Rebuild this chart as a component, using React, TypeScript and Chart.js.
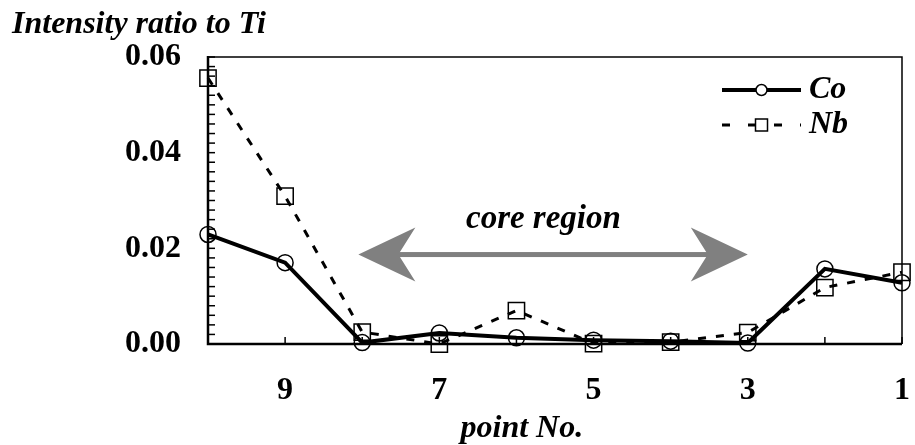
import React, { useEffect, useRef } from 'react';
import { Chart, registerables } from 'chart.js';

Chart.register(...registerables);

// ---- data ----
const points = [10, 9, 8, 7, 6, 5, 4, 3, 2, 1];
const coValues = [0.0229, 0.0170, 0.0003, 0.0023, 0.0013, 0.0008, 0.0006, 0.0002, 0.0157, 0.0128];
const nbValues = [0.0556, 0.0309, 0.0025, 0.0000, 0.0070, 0.0001, 0.0004, 0.0024, 0.0118, 0.0150];
const xTickLabels = [9, 7, 5, 3, 1];
const yTickValues = [0, 0.02, 0.04, 0.06];
const seriesNames = ['Co', 'Nb'];
const yTitle = 'Intensity ratio to Ti';
const xTitle = 'point No.';
const annotationText = 'core region';

// annotation anchors (data coordinates)
const arrowFromX = 8.05;
const arrowToX = 3.0;
const arrowY = 0.0187;
const annotationX = 5.65;
const annotationY = 0.0243;
const xTitleAtValue = 5.93;

const FONT = '"Liberation Serif", "Times New Roman", serif';

const decorPlugin = {
  id: 'decor',
  afterDraw(chart: any) {
    const ctx = chart.ctx;
    const { left, right, top, bottom } = chart.chartArea;
    const xs = chart.scales.x;
    const ys = chart.scales.y;
    ctx.save();
    ctx.strokeStyle = '#000';
    ctx.lineCap = 'butt';

    // frame
    ctx.lineWidth = 1.5;
    ctx.beginPath();
    ctx.moveTo(left, top);
    ctx.lineTo(right, top);
    ctx.lineTo(right, bottom);
    ctx.stroke();
    ctx.lineWidth = 2.5;
    ctx.beginPath();
    ctx.moveTo(left, top - 1);
    ctx.lineTo(left, bottom);
    ctx.lineTo(right, bottom);
    ctx.stroke();

    // inside ticks
    ctx.lineWidth = 1.5;
    for (let i = 0; i <= 30; i++) {
      const py = ys.getPixelForValue(i * 0.002);
      ctx.beginPath();
      ctx.moveTo(left, py);
      ctx.lineTo(left + 7, py);
      ctx.stroke();
    }
    for (let v = 1; v <= 10; v++) {
      const px = xs.getPixelForValue(v);
      ctx.beginPath();
      ctx.moveTo(px, bottom);
      ctx.lineTo(px, bottom - 7);
      ctx.stroke();
    }

    // y title
    ctx.fillStyle = '#000';
    ctx.font = `italic bold 32px ${FONT}`;
    ctx.textAlign = 'left';
    ctx.textBaseline = 'alphabetic';
    ctx.fillText(yTitle, 12, 33);

    // x title
    ctx.textAlign = 'center';
    ctx.fillText(xTitle, xs.getPixelForValue(xTitleAtValue), 437);

    // legend
    const lx0 = right - 180;
    const lx1 = right - 101;
    const lmx = (lx0 + lx1) / 2;
    const ly = [top + 33, top + 68];
    // Co
    ctx.lineWidth = 4;
    ctx.setLineDash([]);
    ctx.beginPath();
    ctx.moveTo(lx0, ly[0]);
    ctx.lineTo(lx1, ly[0]);
    ctx.stroke();
    ctx.lineWidth = 1.5;
    ctx.fillStyle = '#fff';
    ctx.beginPath();
    ctx.arc(lmx, ly[0], 5.5, 0, Math.PI * 2);
    ctx.fill();
    ctx.stroke();
    // Nb
    ctx.lineWidth = 3;
    ctx.setLineDash([8, 18]);
    ctx.beginPath();
    ctx.moveTo(lx0, ly[1]);
    ctx.lineTo(lx1, ly[1]);
    ctx.stroke();
    ctx.setLineDash([]);
    ctx.lineWidth = 1.5;
    ctx.fillStyle = '#fff';
    ctx.fillRect(lmx - 6, ly[1] - 6, 12, 12);
    ctx.strokeRect(lmx - 6, ly[1] - 6, 12, 12);
    ctx.fillStyle = '#000';
    ctx.font = `italic bold 32px ${FONT}`;
    ctx.textAlign = 'left';
    ctx.textBaseline = 'middle';
    ctx.fillText(seriesNames[0], lx1 + 8, ly[0]);
    ctx.fillText(seriesNames[1], lx1 + 8, ly[1]);

    // core region arrow
    const ax0 = xs.getPixelForValue(arrowFromX);
    const ax1 = xs.getPixelForValue(arrowToX);
    const ay = ys.getPixelForValue(arrowY);
    const headLen = 57;
    const headHalf = 27;
    const notch = 17;
    ctx.fillStyle = '#808080';
    ctx.fillRect(ax0 + 30, ay - 2.5, ax1 - ax0 - 60, 5);
    ctx.beginPath();
    ctx.moveTo(ax0, ay);
    ctx.lineTo(ax0 + headLen, ay - headHalf);
    ctx.lineTo(ax0 + headLen - notch, ay);
    ctx.lineTo(ax0 + headLen, ay + headHalf);
    ctx.closePath();
    ctx.fill();
    ctx.beginPath();
    ctx.moveTo(ax1, ay);
    ctx.lineTo(ax1 - headLen, ay - headHalf);
    ctx.lineTo(ax1 - headLen + notch, ay);
    ctx.lineTo(ax1 - headLen, ay + headHalf);
    ctx.closePath();
    ctx.fill();

    ctx.fillStyle = '#000';
    ctx.font = `italic bold 33px ${FONT}`;
    ctx.textAlign = 'center';
    ctx.textBaseline = 'alphabetic';
    ctx.fillText(annotationText, xs.getPixelForValue(annotationX), ys.getPixelForValue(annotationY));

    ctx.restore();
  },
};

export default function App() {
  const canvasRef = useRef<HTMLCanvasElement | null>(null);

  useEffect(() => {
    if (!canvasRef.current) return;
    const chart = new Chart(canvasRef.current, {
      type: 'line',
      data: {
        datasets: [
          {
            label: seriesNames[0],
            data: points.map((p, i) => ({ x: p, y: coValues[i] })),
            borderColor: '#000',
            borderWidth: 4,
            pointStyle: 'circle',
            pointRadius: 8,
            pointBorderWidth: 1.5,
            pointBorderColor: '#000',
            pointBackgroundColor: 'rgba(0,0,0,0)',
            tension: 0,
            clip: false as any,
          },
          {
            label: seriesNames[1],
            data: points.map((p, i) => ({ x: p, y: nbValues[i] })),
            borderColor: '#000',
            borderWidth: 3,
            borderDash: [8, 10],
            pointStyle: 'rect',
            pointRadius: 11.5,
            pointBorderWidth: 1.5,
            pointBorderColor: '#000',
            pointBackgroundColor: 'rgba(0,0,0,0)',
            tension: 0,
            clip: false as any,
          },
        ],
      },
      options: {
        responsive: false,
        animation: false,
        devicePixelRatio: 1,
        layout: { padding: { top: 57, right: 12, left: 0, bottom: 0 } },
        plugins: {
          legend: { display: false },
          tooltip: { enabled: false },
          title: { display: false },
        },
        scales: {
          x: {
            type: 'linear',
            reverse: true,
            min: 1,
            max: 10,
            grid: { display: false },
            border: { display: false },
            ticks: {
              stepSize: 1,
              autoSkip: false,
              maxRotation: 0,
              color: '#000',
              padding: 20,
              font: { family: FONT, size: 32, weight: 'bold' },
              callback: (v: any) => (xTickLabels.includes(Number(v)) ? String(v) : ''),
            },
            afterFit: (s: any) => {
              s.height = 101;
              s.paddingLeft = 0;
              s.paddingRight = 0;
            },
          },
          y: {
            min: 0,
            max: 0.06,
            grid: { display: false },
            border: { display: false },
            afterBuildTicks: (s: any) => {
              s.ticks = yTickValues.map((v) => ({ value: v }));
            },
            ticks: {
              color: '#000',
              padding: 19,
              font: { family: FONT, size: 32, weight: 'bold' },
              callback: (v: any) => Number(v).toFixed(2),
            },
            afterFit: (s: any) => {
              s.width = 208;
              s.paddingTop = 0;
              s.paddingBottom = 0;
            },
          },
        },
      },
      plugins: [decorPlugin],
    });
    return () => chart.destroy();
  }, []);

  return (
    <div style={{ position: 'absolute', left: 0, top: 0, width: 915, height: 445, background: '#fff' }}>
      <canvas ref={canvasRef} width={915} height={445} />
    </div>
  );
}
